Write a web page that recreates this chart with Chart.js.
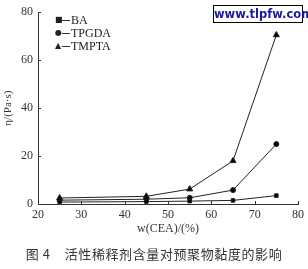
<!DOCTYPE html>
<html lang="zh">
<head>
<meta charset="UTF-8">
<script src="https://cdn.jsdelivr.net/npm/chart.js"></script>
<title>图4</title>
<style>
  body { margin: 0; background: #fff; }
  #wrap { position: relative; width: 308px; height: 269px; }
  #mark { position: absolute; left: 213px; top: 5px; width: 88px; height: 16px; border: 1px solid #000;
          font: bold 11.5px "DejaVu Sans", sans-serif; color: #1a1aa0; text-align: center; line-height: 16px; background: #fff; }
  #cap { position: absolute; left: 0; top: 244px; width: 308px; text-align: center;
         font: 13px "Noto Sans CJK SC", sans-serif; color: #333; letter-spacing: 0.6px; }
</style>
</head>
<body>
<div id="wrap">
  <canvas id="grafico" width="308" height="269"></canvas>
  <div id="mark">www.tlpfw.com</div>
  <div id="cap">图 4&nbsp;&nbsp;&nbsp;&nbsp;活性稀释剂含量对预聚物黏度的影响</div>
</div>
<script>
// datos
const cea = [25, 45, 55, 65, 75];
const ba = [0.8, 1.0, 1.2, 1.5, 3.5];
const tpgda = [1.6, 2.0, 2.6, 5.8, 25];
const tmpta = [2.5, 3.2, 6.2, 18, 70.5];
const xTicks = [20, 30, 40, 50, 60, 70, 80];
const yTicks = [0, 20, 40, 60, 80];

const serie = (label, ys, style, r) => ({
    label: label,
    data: cea.map((x, i) => ({x: x, y: ys[i]})),
    borderColor: '#222',
    backgroundColor: '#000',
    borderWidth: 1,
    pointStyle: style,
    pointRadius: r,
    tension: 0
});

// ticks hacia adentro y leyenda dentro del area
const extras = {
    id: 'extras',
    afterDraw(chart) {
        const ctx = chart.ctx;
        const xs = chart.scales.x, ys = chart.scales.y;
        ctx.save();
        ctx.strokeStyle = '#333';
        ctx.lineWidth = 1;
        ctx.beginPath();
        xTicks.forEach(v => {
            const px = Math.round(xs.getPixelForValue(v)) + 0.5;
            ctx.moveTo(px, ys.bottom);
            ctx.lineTo(px, ys.bottom - 3);
        });
        yTicks.forEach(v => {
            const py = Math.round(ys.getPixelForValue(v)) + 0.5;
            ctx.moveTo(xs.left, py);
            ctx.lineTo(xs.left + 3, py);
        });
        ctx.stroke();
        const simbolos = ['■', '●', '▲'];
        ctx.fillStyle = '#222';
        ctx.textBaseline = 'middle';
        chart.data.datasets.forEach((d, i) => {
            const y = 20 + i * 13;
            ctx.font = '8px "DejaVu Sans", sans-serif';
            ctx.fillText(simbolos[i], 55, y);
            ctx.beginPath();
            ctx.moveTo(62, y + 0.5);
            ctx.lineTo(70, y + 0.5);
            ctx.stroke();
            ctx.font = '12px "Liberation Serif", serif';
            ctx.fillText(d.label, 71, y + 1);
        });
        ctx.restore();
    }
};

new Chart(document.getElementById('grafico'), {
    type: 'line',
    data: {
        datasets: [
            serie('BA', ba, 'rect', 2.5),
            serie('TPGDA', tpgda, 'circle', 2.5),
            serie('TMPTA', tmpta, 'triangle', 3.5)
        ]
    },
    options: {
        responsive: false,
        animation: false,
        devicePixelRatio: 1,
        layout: { padding: { top: 8, right: 9, bottom: 29, left: 2 } },
        plugins: { legend: { display: false }, tooltip: { enabled: false } },
        scales: {
            x: {
                type: 'linear', min: 20, max: 80,
                afterBuildTicks: s => { s.ticks = xTicks.map(v => ({value: v})); },
                afterFit: s => { s.height = 36; },
                grid: { display: false, drawTicks: false },
                border: { display: true, color: '#333', width: 1 },
                ticks: { color: '#333', padding: 4, font: { family: 'Liberation Serif', size: 12 } },
                title: { display: true, text: 'w(CEA)/(%)', color: '#333', padding: { top: 0, bottom: 4 },
                         font: { family: 'Liberation Serif', size: 12 } }
            },
            y: {
                type: 'linear', min: 0, max: 80,
                afterBuildTicks: s => { s.ticks = yTicks.map(v => ({value: v})); },
                afterFit: s => { s.width = 36; },
                grid: { display: false, drawTicks: false },
                border: { display: true, color: '#333', width: 1 },
                ticks: { color: '#333', padding: 5, font: { family: 'Liberation Serif', size: 12 } },
                title: { display: true, text: 'η/(Pa·s)', color: '#333', padding: 0,
                         font: { family: 'Liberation Serif', size: 11 } }
            }
        }
    },
    plugins: [extras]
});
</script>
</body>
</html>
